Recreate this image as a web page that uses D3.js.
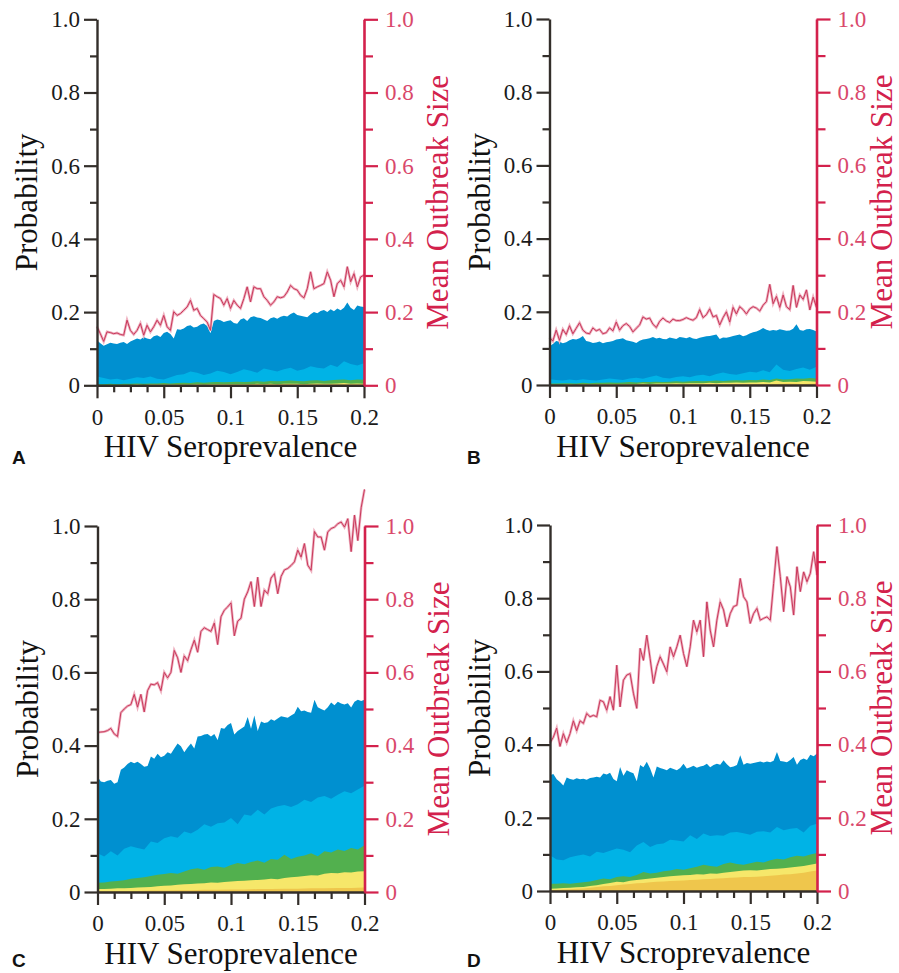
<!DOCTYPE html>
<html>
<head>
<meta charset="utf-8">
<script src="https://cdnjs.cloudflare.com/ajax/libs/d3/7.8.5/d3.min.js"></script>
<style>
  body { margin: 0; background: #fff; }
  text { font-family: "Liberation Serif", "Times New Roman", serif; }
  .panelLetter { font-family: "Liberation Sans", Arial, sans-serif; font-weight: bold; }
</style>
</head>
<body>
<div id="chart"></div>
<script>

// Data. x runs 0 .. 0.2 evenly over each array.
// Areas are cumulative tops: dark blue, light blue, green, yellow, gold.
// ==============================
var lineA = [.160,.141,.120,.146,.144,.141,.143,.139,.137,.178,
  .150,.139,.150,.169,.137,.164,.146,.160,.178,.164,
  .191,.160,.150,.201,.191,.196,.205,.214,.232,.205,
  .210,.191,.182,.173,.150,.248,.242,.237,.219,.237,
  .210,.232,.219,.210,.237,.269,.228,.269,.264,.264,
  .242,.232,.219,.228,.242,.239,.242,.255,.273,.264,
  .260,.246,.239,.264,.310,.264,.269,.273,.278,.310,
  .287,.242,.278,.287,.269,.324,.283,.305,.269,.296,
  .301];
var blueA = [.123,.115,.108,.112,.116,.114,.113,.116,.118,.113,
  .120,.124,.128,.125,.132,.128,.126,.134,.137,.132,
  .143,.146,.140,.128,.153,.152,.155,.162,.164,.158,
  .160,.166,.169,.162,.142,.176,.180,.178,.173,.176,
  .178,.170,.168,.180,.183,.176,.186,.189,.185,.184,
  .180,.176,.183,.186,.182,.187,.190,.188,.195,.199,
  .192,.190,.188,.186,.194,.200,.197,.203,.206,.200,
  .208,.202,.210,.205,.212,.226,.212,.206,.218,.215,
  .214];
var cyanA = [.024,.020,.016,.018,.014,.018,.022,.020,.024,.018,
  .016,.022,.028,.030,.038,.034,.028,.032,.040,.036,
  .030,.036,.044,.040,.034,.046,.042,.038,.044,.048,
  .040,.044,.052,.048,.046,.056,.050,.066,.058,.054,
  .060];
var greenA = [.003,.003,.004,.003,.004,.004,.005,.004,.005,.005,
  .006,.005,.006,.007,.006,.008,.007,.008,.009,.008,
  .009,.010,.009,.010,.011,.010,.012,.011,.012,.013,
  .012,.011,.013,.014,.012,.014,.015,.016,.014,.016,
  .015];
var yellowA = [.001,.001,.001,.001,.001,.001,.002,.001,.002,.002,
  .002,.002,.002,.002,.002,.003,.002,.003,.003,.003,
  .003,.003,.003,.003,.004,.003,.004,.003,.004,.004,
  .004,.003,.004,.005,.004,.004,.005,.006,.004,.005,
  .004];
var goldA = [.000,.000,.001,.001,.001,.001,.001,.001,.001,.001,
  .001,.001,.002,.001,.002,.002,.002,.002,.002,.002,.002];

var lineB = [.130,.120,.150,.122,.152,.138,.162,.140,.155,.170,
  .150,.142,.140,.156,.148,.152,.140,.143,.156,.148,
  .172,.150,.162,.168,.160,.145,.155,.164,.186,.180,
  .183,.166,.157,.174,.183,.175,.171,.180,.176,.176,
  .179,.184,.180,.177,.184,.206,.184,.192,.208,.186,
  .190,.164,.184,.200,.172,.212,.194,.214,.206,.194,
  .208,.214,.210,.202,.218,.228,.275,.222,.242,.212,
  .246,.214,.206,.272,.212,.246,.234,.260,.205,.240,
  .212];
var blueB = [.105,.112,.120,.118,.114,.117,.122,.126,.124,.128,
  .134,.120,.118,.115,.116,.119,.114,.117,.118,.120,
  .124,.126,.128,.122,.120,.118,.115,.121,.124,.126,
  .128,.131,.127,.129,.126,.125,.130,.128,.126,.131,
  .130,.128,.131,.127,.126,.129,.131,.133,.134,.136,
  .138,.126,.130,.129,.131,.134,.136,.138,.133,.136,
  .141,.144,.146,.150,.156,.151,.148,.150,.149,.152,
  .150,.148,.149,.154,.166,.150,.148,.152,.153,.150,
  .146];
var cyanB = [.016,.014,.012,.015,.013,.016,.014,.012,.015,.018,
  .016,.014,.018,.020,.017,.022,.026,.020,.018,.022,
  .024,.021,.026,.028,.024,.030,.034,.030,.028,.032,
  .036,.034,.040,.035,.056,.042,.038,.044,.048,.042,
  .050];
var greenB = [.004,.004,.005,.005,.004,.006,.005,.006,.006,.007,
  .006,.007,.008,.007,.008,.008,.009,.008,.009,.010,
  .009,.010,.011,.010,.011,.012,.011,.012,.013,.012,
  .014,.013,.015,.014,.018,.015,.016,.018,.017,.019,
  .018];
var yellowB = [.001,.001,.001,.002,.001,.002,.002,.002,.002,.003,
  .002,.003,.003,.003,.004,.003,.004,.004,.004,.005,
  .004,.005,.005,.005,.006,.005,.006,.006,.007,.006,
  .007,.007,.008,.007,.012,.008,.009,.008,.011,.010,
  .009];
var goldB = [.000,.000,.001,.001,.001,.001,.001,.002,.001,.002,
  .002,.002,.002,.002,.003,.002,.003,.003,.004,.003,.004];

var lineC = [.436,.437,.438,.441,.447,.432,.425,.490,.500,.508,
  .512,.540,.505,.540,.492,.550,.568,.566,.572,.550,
  .600,.585,.600,.660,.640,.600,.645,.632,.662,.688,
  .655,.712,.722,.717,.712,.735,.676,.752,.770,.779,
  .790,.700,.740,.748,.800,.820,.848,.780,.860,.780,
  .825,.815,.858,.870,.815,.862,.880,.884,.892,.902,
  .934,.915,.952,.893,.879,.985,.970,.970,.934,.984,
  .993,.997,1.006,1.011,.997,1.020,.930,1.030,.960,1.050,
  1.100];
var blueC = [.315,.302,.300,.304,.306,.296,.300,.334,.340,.350,
  .356,.352,.356,.350,.342,.344,.370,.364,.378,.368,
  .372,.382,.378,.392,.406,.398,.382,.395,.406,.392,
  .425,.426,.430,.432,.425,.432,.415,.448,.446,.456,
  .462,.430,.440,.446,.452,.478,.446,.482,.440,.466,
  .462,.464,.472,.468,.474,.480,.478,.476,.482,.488,
  .506,.494,.496,.492,.490,.525,.505,.500,.496,.505,
  .518,.510,.520,.515,.512,.516,.504,.520,.525,.522,
  .525];
var cyanC = [.106,.097,.111,.100,.118,.125,.120,.116,.138,.134,
  .147,.152,.148,.165,.160,.170,.185,.178,.188,.190,
  .202,.185,.212,.208,.225,.212,.228,.234,.238,.232,
  .240,.252,.246,.258,.262,.255,.266,.275,.270,.280,
  .290];
var greenC = [.025,.026,.029,.030,.032,.036,.038,.040,.044,.047,
  .049,.052,.050,.056,.062,.065,.061,.068,.070,.066,
  .074,.079,.076,.082,.086,.080,.090,.088,.102,.090,
  .096,.100,.106,.098,.111,.108,.116,.112,.120,.116,
  .128];
var yellowC = [.008,.008,.009,.010,.010,.011,.012,.013,.014,.016,
  .017,.018,.020,.021,.022,.023,.024,.026,.025,.027,
  .029,.030,.031,.032,.033,.034,.036,.035,.038,.040,
  .042,.044,.046,.045,.050,.052,.051,.054,.053,.056,
  .057];
var goldC = [.002,.002,.003,.003,.004,.004,.005,.005,.006,.006,
  .007,.007,.008,.008,.009,.009,.010,.010,.011,.011,.012];

var lineD = [.405,.420,.445,.395,.430,.405,.430,.465,.438,.465,
  .458,.485,.476,.480,.476,.521,.517,.494,.531,.494,
  .617,.503,.576,.590,.594,.540,.499,.663,.630,.699,
  .635,.567,.613,.640,.620,.599,.667,.640,.667,.699,
  .649,.613,.667,.740,.708,.740,.640,.790,.713,.667,
  .740,.790,.768,.722,.758,.777,.781,.854,.804,.790,
  .731,.758,.772,.740,.745,.749,.740,.840,.941,.859,
  .763,.859,.831,.754,.886,.818,.872,.845,.868,.927,
  .863];
var blueD = [.316,.320,.305,.298,.288,.310,.306,.304,.308,.305,
  .307,.304,.309,.310,.312,.310,.321,.318,.323,.306,
  .300,.339,.315,.330,.325,.322,.300,.344,.338,.353,
  .335,.310,.340,.336,.333,.330,.337,.333,.330,.336,
  .348,.335,.338,.342,.337,.340,.342,.348,.338,.344,
  .348,.345,.357,.346,.338,.340,.344,.371,.345,.350,
  .348,.350,.352,.354,.351,.354,.352,.356,.380,.355,
  .354,.352,.358,.366,.345,.358,.362,.358,.372,.368,
  .376];
var cyanD = [.098,.086,.084,.092,.096,.100,.094,.107,.104,.110,
  .116,.113,.106,.124,.134,.120,.128,.130,.140,.138,
  .135,.152,.142,.157,.150,.152,.151,.160,.161,.158,
  .154,.162,.163,.160,.175,.166,.170,.172,.160,.178,
  .184];
var greenD = [.020,.020,.021,.020,.022,.024,.026,.030,.034,.032,
  .038,.040,.038,.044,.052,.048,.050,.054,.056,.060,
  .058,.062,.066,.072,.068,.066,.074,.078,.074,.072,
  .076,.080,.078,.084,.088,.086,.092,.096,.094,.100,
  .104];
var yellowD = [.006,.007,.008,.009,.010,.011,.014,.016,.019,.022,
  .025,.024,.028,.030,.032,.034,.036,.038,.040,.042,
  .043,.044,.046,.045,.048,.047,.050,.052,.054,.056,
  .057,.056,.058,.060,.061,.062,.064,.066,.068,.072,
  .075];
var goldD = [.002,.003,.004,.005,.006,.007,.009,.011,.013,.014,
  .016,.018,.019,.021,.022,.024,.025,.026,.027,.028,
  .029,.030,.031,.032,.033,.034,.035,.036,.037,.038,
  .038,.039,.040,.042,.043,.045,.046,.048,.050,.053,
  .056];

// Tick values and labels
var probTicks = [0, 0.2, 0.4, 0.6, 0.8, 1.0];
var probLabels = ["0", "0.2", "0.4", "0.6", "0.8", "1.0"];
var probMinor = [0.1, 0.3, 0.5, 0.7, 0.9];
var hivTicks = [0, 0.05, 0.1, 0.15, 0.2];
var hivLabels = ["0", "0.05", "0.1", "0.15", "0.2"];
var hivMinor = [0.0125, 0.025, 0.0375, 0.0625, 0.075, 0.0875,
  0.1125, 0.125, 0.1375, 0.1625, 0.175, 0.1875];

var panelLetters = ["A", "B", "C", "D"];
var xTitles = ["HIV Seroprevalence", "HIV Seroprevalence", "HIV Seroprevalence", "HIV Scroprevalence"];

// Layout
// ==============================
var svgWidth = 899;
var svgHeight = 973;
var width = 267;
var height = 366;

var panelPos = [
  {left: 97, top: 19.3, rightTitle: 84},
  {left: 549.5, top: 19, rightTitle: 75.5},
  {left: 97.5, top: 526, rightTitle: 84},
  {left: 550, top: 525, rightTitle: 75}
];
var letterPos = [[12, 464], [467, 464], [12, 967], [467, 967]];

var layerColors = ["#0090d0", "#00b3e6", "#52b04e", "#f6e76a", "#efc64c"];
var axisDark = "#332e2a";
var axisRed = "#d3214c";
var labelRed = "#d9486b";

var panelData = [
  {line: lineA, layers: [blueA, cyanA, greenA, yellowA, goldA]},
  {line: lineB, layers: [blueB, cyanB, greenB, yellowB, goldB]},
  {line: lineC, layers: [blueC, cyanC, greenC, yellowC, goldC]},
  {line: lineD, layers: [blueD, cyanD, greenD, yellowD, goldD]}
];

var svg = d3.select("#chart")
  .append("svg")
  .attr("width", svgWidth)
  .attr("height", svgHeight);

// evenly spaced x for an array of any length
function xAt(arr, i) {
  return 0.2 * i / (arr.length - 1);
}

function drawPanel(k) {
  var pos = panelPos[k];
  var dat = panelData[k];

  var chartGroup = svg.append("g")
    .attr("transform", `translate(${pos.left}, ${pos.top})`);

  var xLinearScale = d3.scaleLinear().domain([0, 0.2]).range([0, width]);
  var yLeftScale = d3.scaleLinear().domain([0, 1]).range([height, 0]);
  var yRightScale = d3.scaleLinear().domain([0, 1]).range([height, 0]);

  // stacked areas, painted back to front
  dat.layers.forEach(function(arr, j) {
    var area = d3.area()
      .x((d, i) => xLinearScale(xAt(arr, i)))
      .y0(height)
      .y1(d => yLeftScale(d));
    chartGroup.append("path")
      .datum(arr)
      .attr("fill", layerColors[j])
      .attr("d", area);
  });

  // mean outbreak size line
  var line = d3.line()
    .x((d, i) => xLinearScale(xAt(dat.line, i)))
    .y(d => yRightScale(d));
  chartGroup.append("path")
    .datum(dat.line)
    .attr("fill", "none")
    .attr("stroke", "#eeb0bf")
    .attr("stroke-width", 2.6)
    .attr("d", line);
  chartGroup.append("path")
    .datum(dat.line)
    .attr("fill", "none")
    .attr("stroke", "#c9385b")
    .attr("stroke-width", 1)
    .attr("d", line);

  // bottom axis
  var bottomMinor = chartGroup.append("g")
    .attr("transform", `translate(0, ${height})`)
    .call(d3.axisBottom(xLinearScale).tickValues(hivMinor).tickSize(7).tickFormat(""));
  bottomMinor.select(".domain").remove();

  var bottomAxis = chartGroup.append("g")
    .attr("transform", `translate(0, ${height})`)
    .call(d3.axisBottom(xLinearScale)
      .tickValues(hivTicks)
      .tickFormat((d, i) => hivLabels[i])
      .tickSize(13)
      .tickSizeOuter(0)
      .tickPadding(10));

  // left axis
  var leftMinor = chartGroup.append("g")
    .call(d3.axisLeft(yLeftScale).tickValues(probMinor).tickSize(7).tickFormat(""));
  leftMinor.select(".domain").remove();

  var leftAxis = chartGroup.append("g")
    .call(d3.axisLeft(yLeftScale)
      .tickValues(probTicks)
      .tickFormat((d, i) => probLabels[i])
      .tickSize(13)
      .tickSizeOuter(0)
      .tickPadding(4));

  // right axis
  var rightMinor = chartGroup.append("g")
    .attr("transform", `translate(${width}, 0)`)
    .call(d3.axisRight(yRightScale).tickValues(probMinor).tickSize(9).tickFormat(""));
  rightMinor.select(".domain").remove();

  var rightAxis = chartGroup.append("g")
    .attr("transform", `translate(${width}, 0)`)
    .call(d3.axisRight(yRightScale)
      .tickValues(probTicks)
      .tickFormat((d, i) => probLabels[i])
      .tickSize(14)
      .tickSizeOuter(0)
      .tickPadding(7));

  [bottomMinor, bottomAxis, leftMinor, leftAxis].forEach(function(ax) {
    ax.selectAll("line").attr("stroke", axisDark).attr("stroke-width", 2.2);
    ax.selectAll(".domain").attr("stroke", axisDark).attr("stroke-width", 2.4);
    ax.selectAll("text")
      .attr("fill", "#1a1a1a")
      .style("font-family", "'Liberation Serif', 'Times New Roman', serif")
      .style("font-size", "23px");
  });
  [rightMinor, rightAxis].forEach(function(ax) {
    ax.selectAll("line").attr("stroke", axisRed).attr("stroke-width", 2.2);
    ax.selectAll(".domain").attr("stroke", axisRed).attr("stroke-width", 2.6);
    ax.selectAll("text")
      .attr("fill", labelRed)
      .style("font-family", "'Liberation Serif', 'Times New Roman', serif")
      .style("font-size", "23px");
  });

  // axis titles
  chartGroup.append("text")
    .attr("transform", `translate(${width / 2}, ${height + 72})`)
    .attr("text-anchor", "middle")
    .attr("font-size", "31px")
    .attr("fill", "#111")
    .text(xTitles[k]);

  chartGroup.append("text")
    .attr("transform", `translate(-60, ${height / 2}) rotate(-90)`)
    .attr("text-anchor", "middle")
    .attr("font-size", "31px")
    .attr("fill", "#111")
    .text("Probability");

  chartGroup.append("text")
    .attr("transform", `translate(${width + pos.rightTitle}, ${height / 2}) rotate(-90)`)
    .attr("text-anchor", "middle")
    .attr("font-size", "31px")
    .attr("fill", axisRed)
    .text("Mean Outbreak Size");

  // panel letter
  svg.append("text")
    .attr("class", "panelLetter")
    .attr("x", letterPos[k][0])
    .attr("y", letterPos[k][1])
    .attr("font-size", "19px")
    .attr("fill", "#111")
    .text(panelLetters[k]);
}

for (var k = 0; k < 4; k++) {
  drawPanel(k);
}

</script>
</body>
</html>
